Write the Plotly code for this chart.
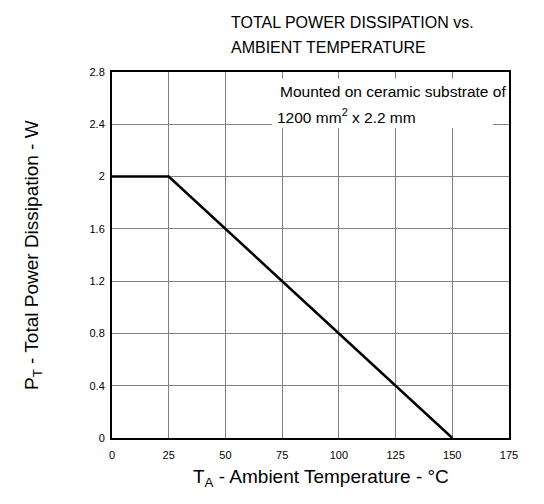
import plotly.graph_objects as go

# Data: derating curve
temp_c = [0, 25, 150]
power_w = [2.0, 2.0, 0.0]

x_ticks = [0, 25, 50, 75, 100, 125, 150, 175]
y_ticks = [0, 0.4, 0.8, 1.2, 1.6, 2.0, 2.4, 2.8]
y_tick_text = ["0", "0.4", "0.8", "1.2", "1.6", "2", "2.4", "2.8"]

title_line1 = "TOTAL POWER DISSIPATION vs."
title_line2 = "AMBIENT TEMPERATURE"
x_title = "T<sub>A</sub> - Ambient Temperature - °C"
y_title = "P<sub>T</sub> - Total Power Dissipation - W"
note_line1 = "Mounted on ceramic substrate of"
note_line2 = "1200 mm<sup>2</sup> x 2.2 mm"

FONT = "Liberation Sans, Arial, sans-serif"
W, H = 544, 504
L, R, T, B = 104, 43, 64, 74

pw = W - L - R
ph = H - T - B

fig = go.Figure()
fig.add_trace(go.Scatter(
    x=temp_c, y=power_w, mode="lines",
    line=dict(color="black", width=2.5),
    showlegend=False, hoverinfo="skip",
))

fig.update_layout(
    width=W, height=H,
    margin=dict(l=L, r=R, t=T, b=B),
    paper_bgcolor="white", plot_bgcolor="white",
    font=dict(family=FONT, color="black"),
    xaxis=dict(
        range=[0, 175], tickvals=x_ticks, ticks="outside", ticklen=6,
        tickcolor="white",
        showgrid=True, gridcolor="#808080", gridwidth=1,
        showline=True, linecolor="black", linewidth=2, mirror=True,
        zeroline=False, tickfont=dict(size=11),
    ),
    yaxis=dict(
        range=[0, 2.8], tickvals=y_ticks, ticktext=y_tick_text, ticks="outside",
        ticklen=3, tickcolor="white",
        showgrid=True, gridcolor="#808080", gridwidth=1,
        showline=True, linecolor="black", linewidth=2, mirror=True,
        zeroline=False, tickfont=dict(size=11),
    ),
    shapes=[dict(
        type="rect", xref="x", yref="y",
        x0=70.5, x1=168, y0=2.37, y1=2.75,
        fillcolor="white", line=dict(width=0), layer="above",
    )],
    annotations=[
        dict(text=title_line1, xref="paper", yref="paper",
             x=(221 - L) / pw, y=1 + (T - 14) / ph,
             xanchor="left", yanchor="middle", showarrow=False,
             font=dict(size=16, family=FONT)),
        dict(text=title_line2, xref="paper", yref="paper",
             x=(221 - L) / pw, y=1 + (T - 39) / ph,
             xanchor="left", yanchor="middle", showarrow=False,
             font=dict(size=16, family=FONT)),
        dict(text=x_title, xref="paper", yref="paper",
             x=0.5 + 10 / pw, y=-(470 - (H - B)) / ph,
             xanchor="center", yanchor="middle", showarrow=False,
             font=dict(size=19, family=FONT)),
        dict(text=y_title, xref="paper", yref="paper",
             x=-(L - 25) / pw, y=0.5, textangle=-90,
             xanchor="center", yanchor="middle", showarrow=False,
             font=dict(size=19, family=FONT)),
        dict(text=note_line1, xref="x", yref="y", x=73, y=2.65,
             xanchor="left", yanchor="middle", showarrow=False,
             font=dict(size=15.5, family=FONT)),
        dict(text=note_line2, xref="x", yref="y", x=72, y=2.465,
             xanchor="left", yanchor="middle", showarrow=False,
             font=dict(size=15.5, family=FONT)),
    ],
)

fig.write_html("out.html")
